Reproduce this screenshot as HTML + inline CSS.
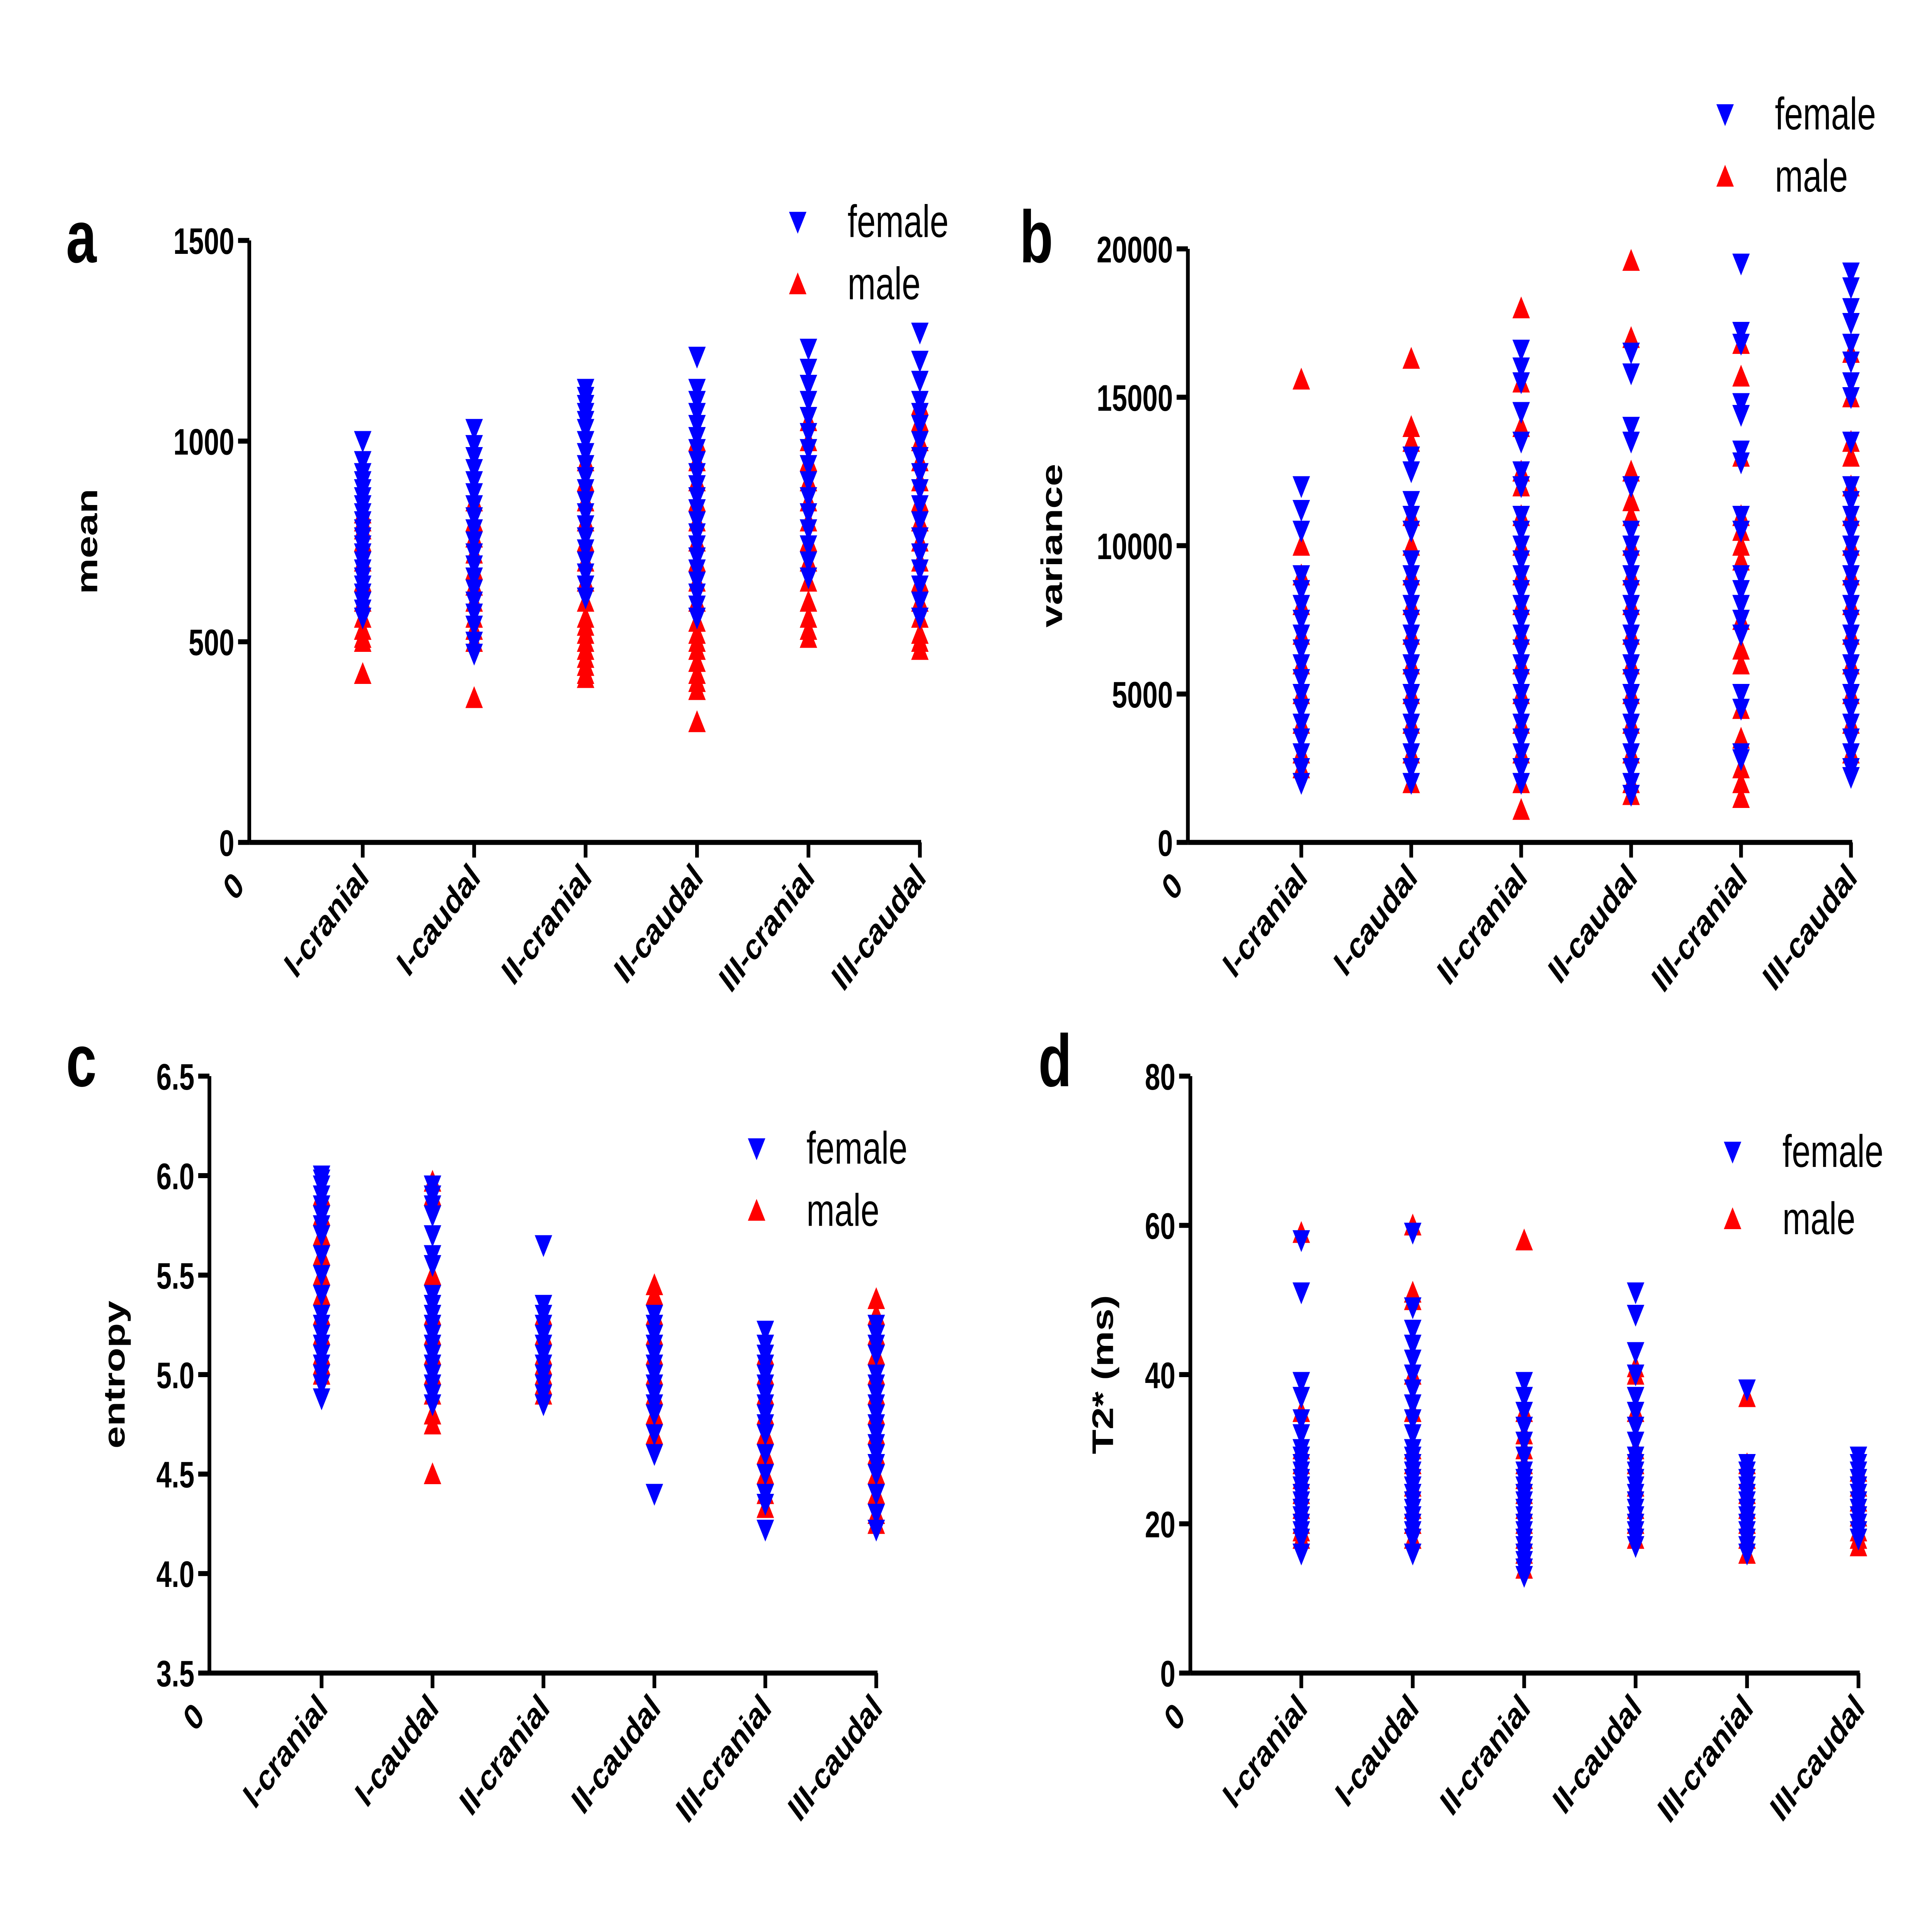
<!DOCTYPE html>
<html><head><meta charset="utf-8"><style>
html,body{margin:0;padding:0;background:#fff;width:100%;height:100%;overflow:hidden}
svg{display:block;position:fixed;left:0;top:0;width:100vw;height:100vh}
text{font-family:"Liberation Sans",Arial,sans-serif;font-weight:bold;fill:#000}
</style></head><body>
<svg id="chart" viewBox="0 0 1550 1149" preserveAspectRatio="none" xmlns="http://www.w3.org/2000/svg"></svg>
<script>
const categories=["I-cranial","I-caudal","II-cranial","II-caudal","III-cranial","III-caudal"];
const meanTicks=[0,500,1000,1500];
const meanFemale=[[1000,950,920,900,880,860,840,820,800,780,760,740,720,700,680,660,640,620,600,580,560],[1030,990,960,930,900,870,840,810,780,750,720,690,660,630,600,570,540,500,470],[1130,1110,1090,1070,1050,1030,1000,970,940,910,880,850,820,790,760,730,700,670,640,610],[1210,1130,1100,1070,1040,1010,980,950,920,890,860,830,800,770,740,710,680,650,620,590,560],[1230,1180,1140,1100,1060,1020,980,940,900,860,820,780,740,700,660],[1270,1200,1150,1100,1070,1040,1000,960,920,880,840,800,760,720,680,640,600,560]];
const meanMale=[[820,800,780,750,700,650,600,560,530,510,500,420],[850,800,760,720,680,640,600,560,530,500,360],[950,900,850,800,750,700,650,600,560,540,520,500,480,460,440,420,410],[1000,950,900,850,800,750,700,650,600,550,520,500,480,450,420,400,380,300],[1050,1000,950,900,850,800,750,700,650,600,560,530,510],[1090,1050,1000,950,900,850,800,750,700,650,600,560,520,500,480]];
const varTicks=[0,5000,10000,15000,20000];
const varFemale=[[12000,11200,10500,9000,8500,8000,7500,7000,6500,6000,5500,5000,4500,4000,3500,3000,2500,2000],[13000,12500,11500,11000,10500,9500,9000,8500,8000,7500,7000,6500,6000,5500,5000,4500,4000,3500,3000,2500,2000],[16600,16000,15500,14500,13500,12500,12000,11000,10500,10000,9500,9000,8500,8000,7500,7000,6500,6000,5500,5000,4500,4000,3500,3000,2500,2000],[16500,15800,14000,13500,12000,10500,10000,9500,9000,8500,8000,7500,7000,6500,6000,5500,5000,4500,4000,3500,3000,2500,2000,1600],[19500,17200,16800,14800,14400,13200,12800,11000,10500,9000,8500,8000,7500,7000,5000,4500,3000,2800],[19200,18700,18000,17500,16800,16200,15500,15000,13500,12000,11500,11000,10500,10000,9500,9000,8500,8000,7500,7000,6500,6000,5500,5000,4500,4000,3500,3000,2500,2200]];
const varMale=[[15600,10000,9000,8000,7000,6000,5000,4000,3000,2500],[16300,14000,13500,11000,10000,9000,8000,7000,6000,5000,4000,3000,2000],[18000,15500,14000,12500,12000,11000,10000,9000,8000,7000,6000,5000,4000,3000,2000,1100],[19600,17000,12500,11500,11000,10000,9000,8000,7000,6000,5000,4000,3000,2000,1600],[16800,15700,13000,11000,10500,10000,9500,7500,6500,6000,4500,3500,2500,2000,1500],[16500,15000,13500,13000,12000,11000,10000,9000,8000,7000,6000,5000,4000,3000]];
const entTicks=[3.5,4.0,4.5,5.0,5.5,6.0,6.5];
const entFemale=[[6.0,5.98,5.95,5.9,5.85,5.8,5.75,5.7,5.6,5.5,5.4,5.3,5.25,5.2,5.15,5.1,5.05,5.0,4.95,4.88],[5.95,5.9,5.85,5.8,5.7,5.6,5.55,5.4,5.35,5.3,5.25,5.2,5.15,5.1,5.05,5.0,4.95,4.9,4.85],[5.65,5.35,5.3,5.25,5.2,5.15,5.1,5.05,5.0,4.95,4.9,4.85],[5.3,5.25,5.2,5.15,5.1,5.05,5.0,4.95,4.9,4.85,4.8,4.7,4.6,4.4],[5.22,5.15,5.1,5.05,5.0,4.95,4.9,4.85,4.8,4.75,4.7,4.6,4.5,4.4,4.35,4.22],[5.25,5.2,5.15,5.1,5.0,4.95,4.9,4.85,4.8,4.75,4.7,4.65,4.6,4.55,4.5,4.4,4.3,4.22]];
const entMale=[[5.9,5.8,5.7,5.6,5.5,5.4,5.3,5.2,5.1,5.05,5.0],[5.97,5.9,5.5,5.3,5.2,5.1,5.0,4.9,4.8,4.75,4.5],[5.3,5.2,5.1,5.05,5.0,4.95,4.9],[5.45,5.4,5.3,5.2,5.1,5.0,4.9,4.8,4.7],[5.1,5.0,4.9,4.8,4.7,4.6,4.5,4.4,4.33],[5.38,5.3,5.2,5.1,5.0,4.9,4.8,4.7,4.6,4.5,4.4,4.3,4.25]];
const t2Ticks=[0,20,40,60,80];
const t2Female=[[58,51,39,37,34,32,30,29,28,27,26,25,24,23,22,21,20,19,18,16],[59,49,46,44,42,40,38,36,34,32,30,29,28,27,26,25,24,23,22,21,20,19,18,16],[39,37,35,33,31,29,27,26,25,24,23,22,21,20,19,18,17,16,15,14,13],[51,48,43,40,37,35,33,31,29,28,27,26,25,24,23,22,21,20,19,18,17],[38,28,27,26,25,24,23,22,21,20,19,18,17,16],[29,28,27,26,25,24,23,22,21,20,19,18]];
const t2Male=[[59,35,30,28,26,24,22,20,19,18],[60,51,50,40,35,30,28,25,22,20,18],[58,35,32,30,28,26,24,22,20,18,16,14],[41,40,35,30,28,25,22,20,18],[37,28,26,24,22,20,18,16],[27,25,23,21,19,18,17]];

const NS="http://www.w3.org/2000/svg";
const svg=document.getElementById('chart');
function mk(tag,attrs,parent,txt){const e=document.createElementNS(NS,tag);for(const k in attrs)e.setAttribute(k,attrs[k]);if(txt!==undefined)e.textContent=txt;(parent||svg).appendChild(e);return e;}
function tri(g,x,y,down,color){const s=7;const p=down?`${x-s},${y-6} ${x+s},${y-6} ${x},${y+7}`:`${x-s},${y+6} ${x+s},${y+6} ${x},${y-7}`;return mk('polygon',{points:p,fill:color},g);}

function panel(o){
  const g=mk('g',{});
  
  
  const yS=v=>o.y0+(v-o.vmin)/(o.vmax-o.vmin)*(o.y1-o.y0);
  const xS=i=>o.cx0+i*o.dx;
  const lt=mk('text',{x:o.lx,y:o.ly,'font-size':44},g,o.letter);
  
  const ax=mk('line',{x1:o.ax,y1:o.y0,x2:o.ax,y2:o.y1,stroke:'#000','stroke-width':3},g);
  
  const xa=mk('line',{x1:o.ax,y1:o.y0,x2:xS(5)+1,y2:o.y0,stroke:'#000','stroke-width':3},g);
  
  o.ticks.forEach(t=>{const y=yS(t);
    mk('line',{x1:o.ax-9,y1:y,x2:o.ax,y2:y,stroke:'#000','stroke-width':3},g);
    const tl=mk('text',{x:o.ax-12,y:y+8,'font-size':22,'text-anchor':'end'},g,o.fmt(t));
    });
  const z=mk('text',{x:o.ax-3,y:o.y0+27,'font-size':22,'text-anchor':'end',transform:`rotate(-45 ${o.ax-3} ${o.y0+27})`},g,'0');
  
  categories.forEach((c,i)=>{const x=xS(i);
    mk('line',{x1:x,y1:o.y0,x2:x,y2:o.y0+9,stroke:'#000','stroke-width':3},g);
    const cl=mk('text',{x:x+6,y:o.y0+22,'font-size':22,'text-anchor':'end',transform:`rotate(-45 ${x+6} ${o.y0+22})`},g,c);
    });
  const yt=mk('text',{x:o.tx,y:(o.y0+o.y1)/2,'font-size':24,'text-anchor':'middle',transform:`rotate(-90 ${o.tx} ${(o.y0+o.y1)/2})`},g,o.title);
  
  categories.forEach((c,i)=>{const x=xS(i);
    o.male[i].forEach(v=>{const m=tri(g,x,yS(v),false,'#ff0000');});
    o.female[i].forEach(v=>{const m=tri(g,x,yS(v),true,'#0000ff');});
  });
  const lg=mk('g',{},g);
  const f=tri(lg,o.legx,o.legy,true,'#0000ff');
  const ft=mk('text',{x:o.legx+40,y:o.legy+9,'font-size':27,style:'font-weight:normal'},lg,'female');
  
  const m=tri(lg,o.legx,o.legy+o.legdy,false,'#ff0000');
  const mt=mk('text',{x:o.legx+40,y:o.legy+o.legdy+9,'font-size':27,style:'font-weight:normal'},lg,'male');
  
}
panel({letter:'a',lx:53,ly:156,ax:200,y0:501,y1:143,vmin:0,vmax:1500,cx0:291,dx:89.4,ticks:meanTicks,fmt:t=>String(t),tx:78,title:'mean',male:meanMale,female:meanFemale,legx:640,legy:132,legdy:37});
panel({letter:'b',lx:818,ly:156,ax:953,y0:501,y1:148,vmin:0,vmax:20000,cx0:1044,dx:88.2,ticks:varTicks,fmt:t=>String(t),tx:852,title:'variance',male:varMale,female:varFemale,legx:1384,legy:68,legdy:37});
panel({letter:'c',lx:53,ly:646,ax:168,y0:995,y1:640,vmin:3.5,vmax:6.5,cx0:258,dx:89,ticks:entTicks,fmt:t=>t.toFixed(1),tx:100,title:'entropy',male:entMale,female:entFemale,legx:607,legy:683,legdy:37});
panel({letter:'d',lx:833,ly:646,ax:955,y0:995,y1:640,vmin:0,vmax:80,cx0:1044,dx:89.4,ticks:t2Ticks,fmt:t=>String(t),tx:893,title:'T2* (ms)',male:t2Male,female:t2Female,legx:1390,legy:685,legdy:40});
</script>
</body></html>
